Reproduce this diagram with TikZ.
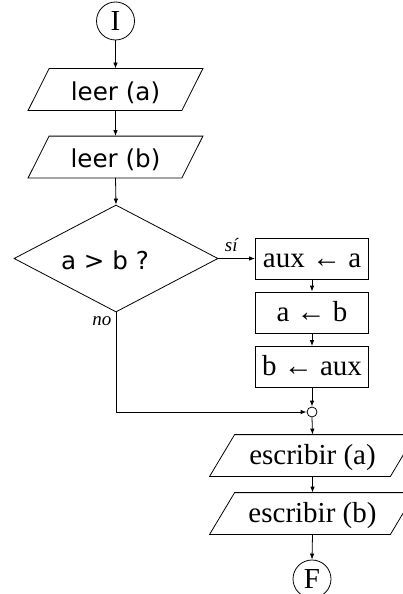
\documentclass[tikz,border=0pt]{standalone}
\usepackage{fontspec}
\setmainfont{Liberation Serif}
\newfontfamily\dvsans{DejaVu Sans}
\usetikzlibrary{shapes.geometric,arrows.meta}
\newcommand\drawpara[2]{\draw ([xshift=-#2]#1.south west) -- ([xshift=#2]#1.north west) -- ([xshift=#2]#1.north east) -- ([xshift=-#2]#1.south east) -- cycle;}
\begin{document}
\begin{tikzpicture}[x=1pt,y=-1pt,
  line width=0.8pt,
  arr/.style={-{Latex[length=6pt,width=4.5pt]}},
  term/.style={circle,draw,minimum size=38pt,inner sep=0pt,font=\fontsize{29}{29}\selectfont},
  iobox/.style={minimum width=#1,minimum height=41pt,inner sep=0pt},
  sanstext/.style={font=\dvsans\fontsize{24.6}{24.6}\selectfont,text height=21pt,text depth=0pt},
  serftext/.style={font=\fontsize{29}{29}\selectfont,text height=17pt,text depth=0pt},
  procbox/.style={draw,minimum width=113pt,minimum height=41pt,inner sep=0pt,serftext},
  decision/.style={diamond,draw,minimum width=204pt,minimum height=107pt,inner sep=0pt},
  lab/.style={font=\itshape\fontsize{19}{19}\selectfont,inner sep=0pt},
  junction/.style={circle,draw,minimum size=10pt,inner sep=0pt},
]
\useasboundingbox (0,0) rectangle (403,594);
\clip (0,0) rectangle (403,594);

\node[term] (I) at (115.5,21) {I};
\node[iobox=153pt,sanstext] (p1) at (115.5,89.5) {leer (a)\hspace{13pt}};
\node[iobox=153pt,sanstext] (p2) at (115.5,157) {leer (b)\hspace{13pt}};
\node[decision,label={[font=\dvsans\fontsize{24.6}{24.6}\selectfont,xshift=-11pt,yshift=-1.7pt]center:{a > b ?}}] (d) at (116,258.5) {};
\node[procbox] (b1) at (312,258.5) {aux ← a};
\node[procbox] (b2) at (312,312.5) {a ← b};
\node[procbox] (b3) at (312,367) {b ← aux};
\node[junction] (j) at (312,412) {};
\node[iobox=180pt,serftext] (p3) at (312.5,455.5) {escribir (a)};
\node[iobox=180pt,serftext] (p4) at (312.5,513.5) {escribir (b)};
\node[term] (F) at (312,579) {F};

\drawpara{p1}{10.5pt}
\drawpara{p2}{10.5pt}
\drawpara{p3}{12.5pt}
\drawpara{p4}{12.5pt}

\draw[arr] (I.south) -- (p1.north);
\draw[arr] (p1.south) -- (p2.north);
\draw[arr] (p2.south) -- (d.north);
\draw[arr] (d.east) -- node[lab,above=6pt,pos=0.35]{sí} (b1.west);
\draw[arr] (b1.south) -- (b2.north);
\draw[arr] (b2.south) -- (b3.north);
\draw[arr] (b3.south) -- (j.north);
\draw[arr] (d.south) -- node[lab,pos=0,anchor=north east,xshift=-4.3pt,yshift=-3.5pt]{no} (d.south |- j.west) -- (j.west);
\draw[arr] (j.south) -- (p3.north);
\draw[arr] (p3.south) -- (p4.north);
\draw[arr] (p4.south) -- (F.north);
\end{tikzpicture}
\end{document}
